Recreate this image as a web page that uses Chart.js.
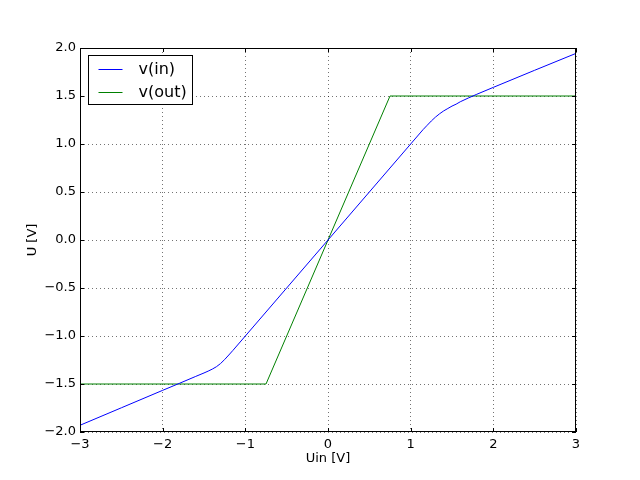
<!DOCTYPE html>
<html>
<head>
<meta charset="utf-8">
<script src="https://cdn.jsdelivr.net/npm/chart.js@4/dist/chart.umd.min.js"></script>
<style>
  html, body { margin: 0; padding: 0; background: #fff; }
  canvas { display: block; }
</style>
</head>
<body>
<canvas id="grafico" width="640" height="480"></canvas>
<script>
// v(in): input node voltage vs. Uin
const xIn  = [-3, -2.5, -2, -1.8, -1.6, -1.5, -1.45, -1.4, -1.35, -1.3, -1.25, -1.2, -1.15, -1, -0.5, 0, 0.5, 1, 1.15, 1.2, 1.25, 1.3, 1.35, 1.4, 1.45, 1.5, 1.55, 1.6, 1.7, 1.8, 2, 2.5, 3];
const vIn  = [-1.93, -1.748, -1.566, -1.494, -1.421, -1.385, -1.366, -1.345, -1.32, -1.287, -1.245, -1.198, -1.15, -1.0, -0.5, 0, 0.5, 1.0, 1.15, 1.195, 1.24, 1.28, 1.315, 1.345, 1.37, 1.395, 1.415, 1.44, 1.48, 1.518, 1.59, 1.768, 1.944];
// v(out): clipped output
const xOut = [-3, -0.75, 0.75, 3];
const vOut = [-1.5, -1.5, 1.5, 1.5];

const seriesNames = ['v(in)', 'v(out)'];
const seriesColors = ['#0000ff', '#008000'];

const xTicks = [-3, -2, -1, 0, 1, 2, 3];
const yTicks = [-2, -1.5, -1, -0.5, 0, 0.5, 1, 1.5, 2];

const fonte = 'DejaVu Sans';

function pares(xs, ys) {
    return xs.map(function(x, i) { return { x: x, y: ys[i] }; });
}

function menos(s) {
    return s.replace('-', '\u2212');
}

// frame, inward ticks and the legend box, matplotlib style
const molduraPlugin = {
    id: 'moldura',
    afterDraw: function(chart) {
        const c = chart.ctx;
        const a = chart.chartArea;
        const sx = chart.scales.x;
        const sy = chart.scales.y;
        c.save();
        c.strokeStyle = '#000';
        c.lineWidth = 1;

        // ticks pointing inward on all four sides
        c.beginPath();
        xTicks.forEach(function(v) {
            const px = Math.round(sx.getPixelForValue(v)) + 0.5;
            c.moveTo(px, a.bottom); c.lineTo(px, a.bottom - 4);
            c.moveTo(px, a.top); c.lineTo(px, a.top + 4);
        });
        yTicks.forEach(function(v) {
            const py = Math.round(sy.getPixelForValue(v)) + 0.5;
            c.moveTo(a.left, py); c.lineTo(a.left + 4, py);
            c.moveTo(a.right, py); c.lineTo(a.right - 4, py);
        });
        c.stroke();

        c.strokeRect(Math.round(a.left) + 0.5, Math.round(a.top) + 0.5,
                     Math.round(a.right - a.left) - 1, Math.round(a.bottom - a.top) - 1);

        // legend
        const lx = Math.round(a.left) + 8.5;
        const ly = Math.round(a.top) + 7.5;
        c.fillStyle = '#fff';
        c.fillRect(lx, ly, 104, 49);
        c.strokeRect(lx, ly, 104, 49);
        c.font = '16px "' + fonte + '"';
        c.textBaseline = 'middle';
        seriesNames.forEach(function(nome, i) {
            const y = ly + 14 + i * 23;
            c.strokeStyle = seriesColors[i];
            c.beginPath();
            c.moveTo(lx + 10, y);
            c.lineTo(lx + 34, y);
            c.stroke();
            c.fillStyle = '#000';
            c.fillText(nome, lx + 50, y);
        });
        c.restore();
    }
};

const ctx = document.getElementById('grafico');

const grafico = new Chart(ctx, {
    type: 'line',
    data: {
        datasets: [{
            label: seriesNames[0],
            data: pares(xIn, vIn),
            borderColor: seriesColors[0],
            borderWidth: 1,
            pointRadius: 0,
            tension: 0
        }, {
            label: seriesNames[1],
            data: pares(xOut, vOut),
            borderColor: seriesColors[1],
            borderWidth: 1,
            pointRadius: 0,
            tension: 0
        }]
    },
    options: {
        responsive: false,
        animation: false,
        devicePixelRatio: 1,
        layout: { padding: { top: 48, right: 64, left: 0, bottom: 0 } },
        plugins: {
            legend: { display: false },
            tooltip: { enabled: false }
        },
        scales: {
            x: {
                type: 'linear',
                min: -3,
                max: 3,
                afterFit: function(scale) { scale.height = 48; },
                afterBuildTicks: function(scale) {
                    scale.ticks = xTicks.map(function(v) { return { value: v }; });
                },
                ticks: {
                    padding: 5,
                    color: '#000',
                    font: { family: fonte, size: 13 },
                    maxRotation: 0,
                    callback: function(v) { return menos(String(v)); }
                },
                grid: {
                    color: 'rgba(0,0,0,0.55)',
                    lineWidth: 1,
                    drawTicks: false
                },
                border: { display: false, dash: [1, 3] },
                title: {
                    display: true,
                    text: 'Uin [V]',
                    color: '#000',
                    font: { family: fonte, size: 13 },
                    padding: { top: 0, bottom: 14 }
                }
            },
            y: {
                type: 'linear',
                min: -2,
                max: 2,
                afterFit: function(scale) { scale.width = 80; },
                afterBuildTicks: function(scale) {
                    scale.ticks = yTicks.map(function(v) { return { value: v }; });
                },
                ticks: {
                    padding: 4,
                    color: '#000',
                    font: { family: fonte, size: 13 },
                    callback: function(v) { return menos(v.toFixed(1)); }
                },
                grid: {
                    color: 'rgba(0,0,0,0.55)',
                    lineWidth: 1,
                    drawTicks: false
                },
                border: { display: false, dash: [1, 3] },
                title: {
                    display: true,
                    text: 'U [V]',
                    color: '#000',
                    font: { family: fonte, size: 13 },
                    padding: { top: 25, bottom: 0 }
                }
            }
        }
    },
    plugins: [molduraPlugin]
});
</script>
</body>
</html>
